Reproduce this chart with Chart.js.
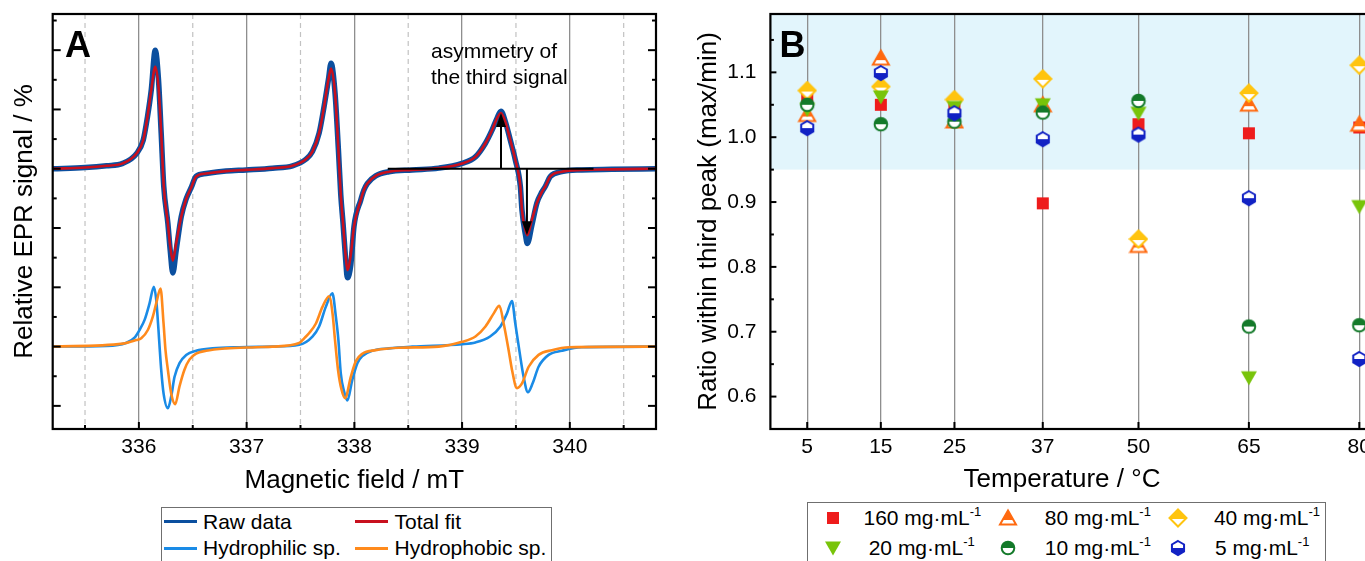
<!DOCTYPE html>
<html><head><meta charset="utf-8">
<script src="https://cdn.jsdelivr.net/npm/chart.js@4.4.1/dist/chart.umd.min.js"></script>
<style>
html,body{margin:0;padding:0;width:1365px;height:561px;overflow:hidden;background:#fff;}
body{position:relative;font-family:'Liberation Sans',Arial,Helvetica,sans-serif;}
.wrap{position:absolute;top:0;height:500px;}
.lg{position:absolute;border:1.5px solid #6f6f6f;box-sizing:border-box;background:#fff;}
.it{position:absolute;font-size:21px;line-height:26px;height:26px;white-space:nowrap;color:#000;}
.ln{position:absolute;height:3px;width:33px;}
.sp{font-size:13px;position:relative;top:-9px;}
.mk{position:absolute;width:20px;height:20px;}
</style></head><body>
<div class="wrap" style="left:0;width:680px;"><canvas id="cA"></canvas></div>
<div class="wrap" style="left:680px;width:740px;"><canvas id="cB"></canvas></div>
<div id="legA" class="lg" style="left:160.5px;top:506.7px;width:391px;height:80px;"></div>
<div id="legB" class="lg" style="left:806.7px;top:501.7px;width:519px;height:80px;"></div>
<div id="legItems"></div>
<script>
// ---------- Panel A data ----------
const fieldUpper = [335.2, 335.5, 335.7, 335.85, 335.98, 336.04, 336.08, 336.115, 336.152, 336.182, 336.207, 336.231, 336.269, 336.291, 336.315, 336.346, 336.393, 336.439, 336.485, 336.531, 336.624, 336.809, 336.994, 337.241, 337.426, 337.55, 337.611, 337.673, 337.719, 337.759, 337.784, 337.821, 337.852, 337.874, 337.895, 337.92, 337.935, 337.967, 337.997, 338.059, 338.089, 338.12, 338.198, 338.321, 338.537, 338.784, 339.0, 339.124, 339.217, 339.278, 339.324, 339.361, 339.402, 339.448, 339.494, 339.541, 339.556, 339.587, 339.606, 339.648, 339.694, 339.741, 339.772, 339.819, 339.926, 340.111, 340.389, 340.8];
const fitSignal = [3.0, 3.02, 3.05, 3.09, 3.26, 3.48, 3.88, 4.33, 4.72, 4.38, 3.60, 2.70, 2.08, 1.69, 1.45, 1.74, 2.19, 2.49, 2.68, 2.87, 2.92, 2.96, 2.98, 3.01, 3.05, 3.16, 3.29, 3.60, 4.05, 4.50, 4.69, 4.27, 3.32, 2.56, 2.08, 1.52, 1.29, 1.55, 2.03, 2.47, 2.64, 2.75, 2.88, 2.95, 2.98, 3.01, 3.09, 3.20, 3.43, 3.65, 3.85, 3.94, 3.79, 3.48, 3.15, 2.70, 2.30, 1.97, 1.88, 2.14, 2.42, 2.61, 2.70, 2.87, 2.95, 2.98, 2.99, 3.0];
const rawSignal = [3.0, 3.02, 3.05, 3.09, 3.26, 3.48, 3.88, 4.33, 5.0, 4.50, 3.60, 2.70, 2.08, 1.62, 1.24, 1.62, 2.19, 2.49, 2.68, 2.87, 2.92, 2.96, 2.98, 3.01, 3.05, 3.16, 3.29, 3.60, 4.05, 4.50, 4.78, 4.27, 3.32, 2.56, 2.08, 1.45, 1.16, 1.38, 2.03, 2.47, 2.64, 2.75, 2.88, 2.95, 2.98, 3.01, 3.09, 3.20, 3.43, 3.65, 3.85, 3.97, 3.79, 3.48, 3.15, 2.70, 2.30, 1.90, 1.74, 2.05, 2.42, 2.61, 2.70, 2.87, 2.95, 2.98, 2.99, 3.0];
const fieldHydrophilic = [335.2, 335.7, 335.88, 335.96, 336.006, 336.053, 336.099, 336.139, 336.161, 336.182, 336.192, 336.207, 336.229, 336.269, 336.3, 336.331, 336.377, 336.439, 336.531, 336.685, 336.932, 337.241, 337.488, 337.611, 337.673, 337.735, 337.796, 337.828, 337.852, 337.874, 337.905, 337.935, 337.981, 338.028, 338.074, 338.167, 338.321, 338.537, 339.0, 339.124, 339.26, 339.356, 339.417, 339.463, 339.494, 339.531, 339.571, 339.611, 339.655, 339.71, 339.803, 339.926, 340.111, 340.8];
const hydrophilicSignal = [0, 0.01, 0.06, 0.15, 0.28, 0.45, 0.73, 1.01, 0.79, 0.28, 0.0, -0.39, -0.79, -1.04, -0.84, -0.51, -0.28, -0.14, -0.07, -0.03, -0.01, 0, 0.03, 0.17, 0.34, 0.67, 0.90, 0.51, 0.11, -0.45, -0.76, -0.91, -0.56, -0.28, -0.16, -0.07, -0.03, 0, 0.04, 0.07, 0.17, 0.34, 0.56, 0.77, 0.39, -0.06, -0.51, -0.77, -0.62, -0.34, -0.14, -0.07, -0.01, 0];
const fieldHydrophobic = [335.2, 335.852, 335.976, 336.022, 336.083, 336.13, 336.161, 336.201, 336.229, 336.247, 336.269, 336.3, 336.337, 336.377, 336.423, 336.469, 336.531, 336.624, 336.809, 337.087, 337.241, 337.488, 337.534, 337.581, 337.643, 337.704, 337.766, 337.798, 337.821, 337.849, 337.88, 337.914, 337.967, 338.013, 338.074, 338.198, 338.414, 338.784, 339.0, 339.124, 339.217, 339.294, 339.346, 339.386, 339.432, 339.463, 339.509, 339.556, 339.618, 339.71, 339.833, 339.994, 340.8];
const hydrophobicSignal = [0, 0.05, 0.11, 0.14, 0.28, 0.51, 0.73, 0.98, 0.39, -0.06, -0.39, -0.79, -0.97, -0.67, -0.39, -0.22, -0.12, -0.07, -0.03, -0.01, 0, 0.06, 0.14, 0.23, 0.39, 0.67, 0.85, 0.55, 0.10, -0.40, -0.72, -0.87, -0.51, -0.25, -0.12, -0.06, -0.02, 0, 0.08, 0.17, 0.34, 0.56, 0.69, 0.39, -0.06, -0.39, -0.70, -0.62, -0.34, -0.14, -0.06, -0.01, 0];
const fieldTicks = [336, 337, 338, 339, 340];
const fieldMinorTicks = [335.5, 336.5, 337.5, 338.5, 339.5, 340.5];
const signalMajorTicks = [-1, 0, 1, 2, 3, 4, 5];
const signalMinorTicks = [-0.5, 0.5, 1.5, 2.5, 3.5, 4.5, 5.5];
const asymBaseline = 3.0;
const asymLine = [338.31, 340.22];
const asymArrowField = [339.361, 339.602];
const asymArrowTip = [3.94, 1.88];

// ---------- Panel B data ----------
const temperatures = [5, 15, 25, 37, 50, 65, 80];
const ratio160 = [1.060, 1.050, 1.052, 0.898, 1.020, 1.006, 1.015];
const ratio80 = [1.035, 1.122, 1.025, 1.050, 0.833, 1.051, 1.020];
const ratio40 = [1.072, 1.078, 1.058, 1.090, 0.843, 1.068, 1.111];
const ratio20 = [1.043, 1.062, 1.046, 1.050, 1.037, 0.629, 0.893];
const ratio10 = [1.050, 1.020, 1.024, 1.038, 1.056, 0.708, 0.710];
const ratio5 = [1.014, 1.099, 1.037, 0.997, 1.004, 0.906, 0.658];
const ratioTicks = [0.6, 0.7, 0.8, 0.9, 1.0, 1.1];
const ratioMinorTicks = [0.65, 0.75, 0.85, 0.95, 1.05, 1.15];
const bandFrom = 0.95;

const FONT = "'Liberation Sans', Arial, Helvetica, sans-serif";
Chart.defaults.font.family = FONT;
Chart.defaults.color = '#000';

function pts(xs, ys) { return xs.map((x, i) => ({ x: x, y: ys[i] })); }
function seg(ctx, x1, y1, x2, y2) { ctx.beginPath(); ctx.moveTo(x1, y1); ctx.lineTo(x2, y2); ctx.stroke(); }
function noPad(s) { s.paddingTop = 0; s.paddingBottom = 0; s.paddingLeft = 0; s.paddingRight = 0; }

// ---------- Panel A ----------
const plugA = {
  id: 'plugA',
  beforeDatasetsDraw(chart) {
    const { ctx, chartArea: a, scales: { x } } = chart;
    ctx.save();
    ctx.strokeStyle = '#c2c2c2'; ctx.lineWidth = 1.2; ctx.setLineDash([5, 4]);
    fieldMinorTicks.forEach(v => { const px = x.getPixelForValue(v); seg(ctx, px, a.top, px, a.bottom); });
    ctx.restore();
  },
  afterDatasetsDraw(chart) {
    const { ctx, chartArea: a, scales: { x, y } } = chart;
    ctx.save();
    ctx.strokeStyle = '#000'; ctx.fillStyle = '#000'; ctx.lineWidth = 2;
    const by = y.getPixelForValue(asymBaseline);
    seg(ctx, x.getPixelForValue(asymLine[0]), by, x.getPixelForValue(asymLine[1]), by);
    asymArrowField.forEach((f, i) => {
      const px = x.getPixelForValue(f), ty = y.getPixelForValue(asymArrowTip[i]);
      const dir = ty < by ? 1 : -1, head = 14;
      seg(ctx, px, by, px, ty + dir * head * 0.7);
      ctx.beginPath(); ctx.moveTo(px, ty); ctx.lineTo(px - 5, ty + dir * head); ctx.lineTo(px + 5, ty + dir * head); ctx.closePath(); ctx.fill();
    });
    ctx.font = '21px ' + FONT; ctx.textBaseline = 'middle'; ctx.textAlign = 'left';
    ctx.fillText('asymmetry of', 431, 52);
    ctx.fillText('the third signal', 431, 78);
    ctx.font = 'bold 36px ' + FONT; ctx.textBaseline = 'alphabetic';
    ctx.fillText('A', 65, 56.5);
    signalMajorTicks.forEach(v => { const py = y.getPixelForValue(v); seg(ctx, a.left, py, a.left + 8, py); seg(ctx, a.right, py, a.right - 8, py); });
    signalMinorTicks.forEach(v => { const py = y.getPixelForValue(v); seg(ctx, a.left, py, a.left + 4, py); seg(ctx, a.right, py, a.right - 4, py); });
    fieldTicks.forEach(v => { const px = x.getPixelForValue(v); seg(ctx, px, a.bottom, px, a.bottom - 7); });
    fieldMinorTicks.forEach(v => { const px = x.getPixelForValue(v); seg(ctx, px, a.bottom, px, a.bottom - 4); });
    ctx.lineWidth = 2.2;
    ctx.strokeRect(a.left, a.top, a.right - a.left, a.bottom - a.top);
    ctx.restore();
  }
};

const lineDs = (label, data, color, width, order) => ({
  label, data, borderColor: color, backgroundColor: color, borderWidth: width,
  pointRadius: 0, showLine: true, cubicInterpolationMode: 'monotone', order: order, fill: false
});

new Chart(document.getElementById('cA'), {
  type: 'scatter',
  data: {
    datasets: [
      lineDs('Raw data', pts(fieldUpper, rawSignal), '#0b4f9f', 5.5, 4),
      lineDs('Total fit', pts(fieldUpper, fitSignal), '#c8101e', 2.6, 3),
      lineDs('Hydrophilic sp.', pts(fieldHydrophilic, hydrophilicSignal), '#1a8be6', 2.6, 2),
      lineDs('Hydrophobic sp.', pts(fieldHydrophobic, hydrophobicSignal), '#ff8a1c', 2.6, 1)
    ]
  },
  options: {
    responsive: true, maintainAspectRatio: false, animation: false, devicePixelRatio: 1, events: [],
    layout: { padding: { left: 0, right: 24, top: 14, bottom: 0 } },
    plugins: { legend: { display: false }, tooltip: { enabled: false } },
    scales: {
      x: {
        type: 'linear', min: 335.2, max: 340.8,
        afterBuildTicks: s => { s.ticks = fieldTicks.map(v => ({ value: v })); },
        afterFit: s => { s.height = 71; noPad(s); },
        ticks: { font: { size: 21 }, padding: 6, autoSkip: false, maxRotation: 0, callback: v => String(v) },
        grid: { color: '#8e8e8e', lineWidth: 1.3, drawTicks: false },
        border: { display: false },
        title: { display: true, text: 'Magnetic field / mT', font: { size: 26 }, padding: { top: 0, bottom: 4 } }
      },
      y: {
        type: 'linear', min: -1.39, max: 5.61,
        afterFit: s => { s.width = 52.7; noPad(s); },
        ticks: { display: false },
        grid: { display: false, drawTicks: false },
        border: { display: false },
        title: { display: true, text: 'Relative EPR signal / %', font: { size: 26 }, padding: { top: 9, bottom: 0 } }
      }
    }
  },
  plugins: [plugA]
});

// ---------- Panel B ----------
function makeMarker(shape, color, half) {
  const c = document.createElement('canvas'); c.width = 20; c.height = 20;
  const g = c.getContext('2d');
  const p = new Path2D();
  let split = 10;
  if (shape === 'square') { p.rect(4, 4, 12, 12); }
  else if (shape === 'triUp') { p.moveTo(10, 2.5); p.lineTo(18, 16.5); p.lineTo(2, 16.5); p.closePath(); split = 12; }
  else if (shape === 'triDown') { p.moveTo(2, 3.5); p.lineTo(18, 3.5); p.lineTo(10, 17.5); p.closePath(); }
  else if (shape === 'diamond') { p.moveTo(10, 1.5); p.lineTo(18.5, 10); p.lineTo(10, 18.5); p.lineTo(1.5, 10); p.closePath(); split = 11; }
  else if (shape === 'circle') { p.arc(10, 10, 6.3, 0, Math.PI * 2); }
  else if (shape === 'hexagon') {
    for (let k = 0; k < 6; k++) { const an = -Math.PI / 2 + k * Math.PI / 3; const px = 10 + 7 * Math.cos(an), py = 10 + 7 * Math.sin(an); if (k) p.lineTo(px, py); else p.moveTo(px, py); }
    p.closePath();
  }
  if (!half) { g.fillStyle = color; g.fill(p); return c; }
  g.fillStyle = '#fff'; g.fill(p);
  g.save(); g.clip(p); g.fillStyle = color;
  if (half === 'top') g.fillRect(0, 0, 20, split); else g.fillRect(0, split, 20, 20 - split);
  g.restore();
  g.strokeStyle = color; g.lineWidth = 2; g.stroke(p);
  return c;
}

const seriesB = [
  { conc: '160', values: ratio160, shape: 'square', color: '#ee1c1c', half: null, order: 6 },
  { conc: '80', values: ratio80, shape: 'triUp', color: '#ff6a10', half: 'top', order: 5 },
  { conc: '40', values: ratio40, shape: 'diamond', color: '#ffc40f', half: 'top', order: 4 },
  { conc: '20', values: ratio20, shape: 'triDown', color: '#78c40a', half: null, order: 3 },
  { conc: '10', values: ratio10, shape: 'circle', color: '#147a2a', half: 'top', order: 2 },
  { conc: '5', values: ratio5, shape: 'hexagon', color: '#1222c4', half: 'bottom', order: 1 }
];

const plugB = {
  id: 'plugB',
  beforeDraw(chart) {
    const { ctx, chartArea: a, scales: { y } } = chart;
    ctx.save();
    ctx.fillStyle = '#e2f5fc';
    const yb = y.getPixelForValue(bandFrom);
    ctx.fillRect(a.left, a.top, a.right - a.left, yb - a.top);
    ctx.restore();
  },
  afterDatasetsDraw(chart) {
    const { ctx, chartArea: a, scales: { x, y } } = chart;
    ctx.save();
    ctx.strokeStyle = '#000'; ctx.lineWidth = 2;
    ratioTicks.forEach(v => { const py = y.getPixelForValue(v); seg(ctx, a.left, py, a.left + 6, py); });
    ratioMinorTicks.forEach(v => { const py = y.getPixelForValue(v); seg(ctx, a.left, py, a.left + 3.5, py); });
    temperatures.forEach(v => { const px = x.getPixelForValue(v); seg(ctx, px, a.bottom, px, a.bottom - 7); });
    ctx.lineWidth = 2.2;
    ctx.strokeRect(a.left, a.top, a.right - a.left, a.bottom - a.top);
    ctx.fillStyle = '#000';
    ctx.font = 'bold 36px ' + FONT; ctx.textBaseline = 'alphabetic'; ctx.textAlign = 'left';
    ctx.fillText('B', a.left + 9, 56.5);
    ctx.font = '26px ' + FONT; ctx.textAlign = 'center'; ctx.textBaseline = 'middle';
    ctx.fillText('Temperature / °C', 382, 480);
    ctx.restore();
  }
};

new Chart(document.getElementById('cB'), {
  type: 'scatter',
  data: {
    datasets: seriesB.map(s => ({
      label: s.conc + ' mg·mL⁻¹',
      data: pts(temperatures, s.values),
      pointStyle: makeMarker(s.shape, s.color, s.half),
      pointRadius: 7, pointHoverRadius: 7, order: s.order, showLine: false,
      borderColor: s.color, backgroundColor: s.color
    }))
  },
  options: {
    responsive: true, maintainAspectRatio: false, animation: false, devicePixelRatio: 1, events: [],
    layout: { padding: { left: 0, right: 23.9, top: 14, bottom: 0 } },
    plugins: { legend: { display: false }, tooltip: { enabled: false } },
    scales: {
      x: {
        type: 'linear', min: 0, max: 85,
        afterBuildTicks: s => { s.ticks = temperatures.map(v => ({ value: v })); },
        afterFit: s => { s.height = 71; noPad(s); },
        ticks: { font: { size: 21 }, padding: 6, autoSkip: false, maxRotation: 0, callback: v => String(v) },
        grid: { color: '#8e8e8e', lineWidth: 1.3, drawTicks: false },
        border: { display: false },
        title: { display: false }
      },
      y: {
        type: 'linear', min: 0.55, max: 1.19,
        afterBuildTicks: s => { s.ticks = ratioTicks.map(v => ({ value: v })); },
        afterFit: s => { s.width = 90.4; noPad(s); },
        ticks: { font: { size: 21 }, padding: 14, callback: v => v.toFixed(1) },
        grid: { display: false, drawTicks: false },
        border: { display: false },
        title: { display: true, text: 'Ratio within third peak (max/min)', font: { size: 26 }, padding: { top: 13, bottom: 0 } }
      }
    }
  },
  plugins: [plugB]
});

// ---------- Legends (HTML text) ----------
const legItems = document.getElementById('legItems');
function addText(html, left, cy) {
  const d = document.createElement('div'); d.className = 'it'; d.innerHTML = html;
  d.style.left = left + 'px'; d.style.top = (cy - 13) + 'px'; legItems.appendChild(d);
}
const legendA = [
  { name: 'Raw data', color: '#0b4f9f' }, { name: 'Total fit', color: '#c8101e' },
  { name: 'Hydrophilic sp.', color: '#1a8be6' }, { name: 'Hydrophobic sp.', color: '#ff8a1c' }
];
const legARows = [521.7, 548], legALine = [164, 354.7], legAText = [203, 394.6];
legendA.forEach((it, i) => {
  const r = Math.floor(i / 2), c = i % 2;
  const ln = document.createElement('div'); ln.className = 'ln'; ln.style.background = it.color;
  ln.style.left = legALine[c] + 'px'; ln.style.top = (legARows[r] - 1.5) + 'px'; legItems.appendChild(ln);
  addText(it.name, legAText[c], legARows[r]);
});
const legBRows = [518.3, 548.3], legBMark = [832.5, 1007.6, 1178];
const legBText = [[863.5, 1044.8, 1213.9], [868.7, 1044.8, 1215]];
seriesB.forEach((s, i) => {
  const r = Math.floor(i / 3), c = i % 3;
  const img = document.createElement('img'); img.className = 'mk';
  img.src = makeMarker(s.shape, s.color, s.half).toDataURL();
  img.style.left = (legBMark[c] - 10) + 'px'; img.style.top = (legBRows[r] - 10) + 'px'; legItems.appendChild(img);
  addText(s.conc + ' mg·mL<span class="sp">-1</span>', legBText[r][c], legBRows[r]);
});
</script>
</body></html>
